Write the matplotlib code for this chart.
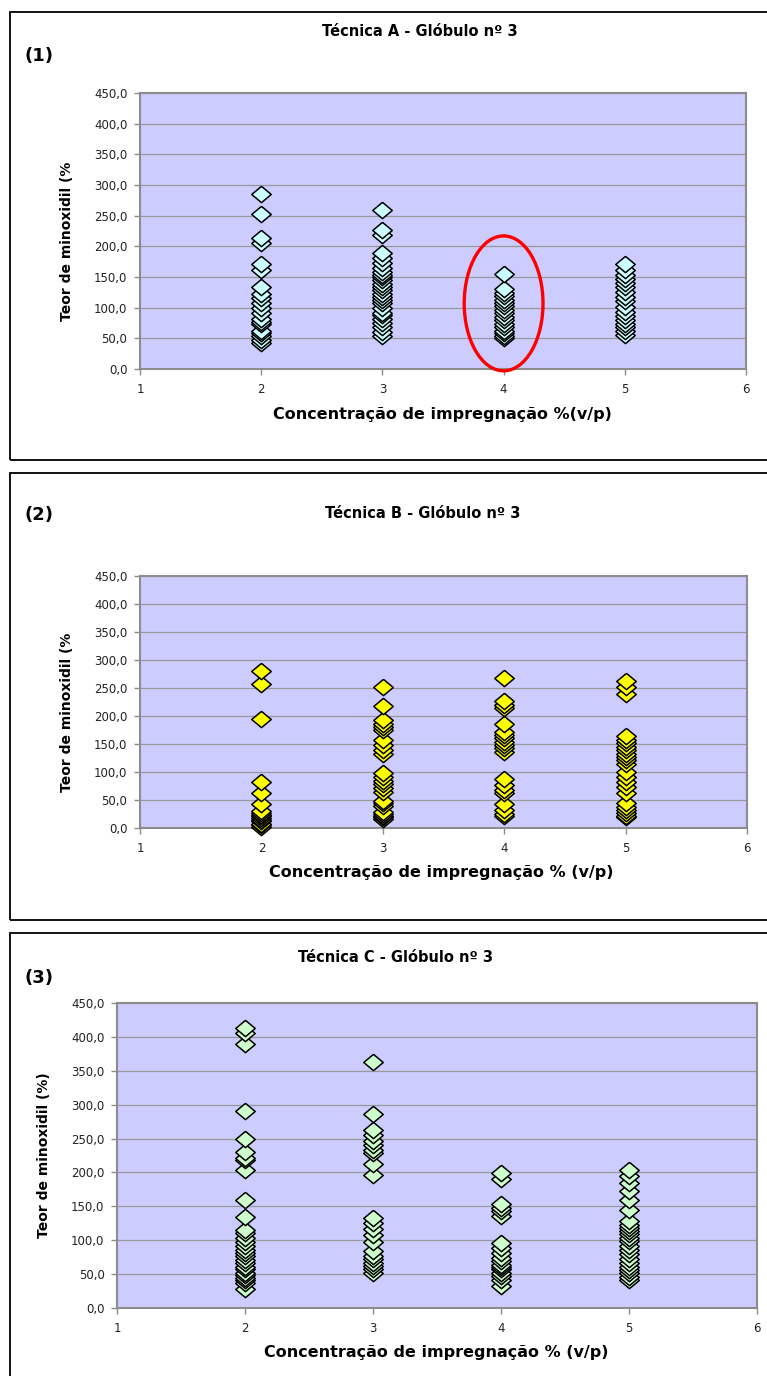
import matplotlib
matplotlib.use("Agg")
import matplotlib.pyplot as plt
from matplotlib.patches import Rectangle, Ellipse
from matplotlib.ticker import FuncFormatter, MultipleLocator

# concentrations on the x axis
conc = [2, 3, 4, 5]

# Técnica A - teor de minoxidil (%) per concentration
tec_a_2 = [286, 252, 214, 206, 171, 162, 133, 123, 115, 107, 99, 91, 81, 77, 73, 62, 58, 53, 47, 43]
tec_a_3 = [259, 227, 219, 189, 181, 173, 165, 158, 154, 150, 145, 139, 134, 128, 123, 118, 112,
           107, 99, 92, 88, 82, 75, 69, 61, 53]
tec_a_4 = [155, 131, 124, 119, 113, 108, 102, 97, 92, 85, 80, 73, 68, 62, 58, 54, 50]
tec_a_5 = [172, 162, 154, 147, 140, 133, 126, 118, 111, 101, 93, 86, 80, 74, 69, 62, 55]

# Técnica B
tec_b_2 = [281, 257, 194, 82, 63, 43, 30, 27, 24, 21, 18, 15, 12, 8, 5, 2]
tec_b_3 = [251, 218, 192, 186, 180, 175, 157, 148, 140, 133, 98, 91, 84, 78, 72, 64, 49, 44,
           40, 28, 25, 22, 19, 16]
tec_b_4 = [268, 226, 220, 214, 186, 172, 166, 160, 154, 148, 142, 136, 88, 76, 68, 62, 42, 32, 25, 22]
tec_b_5 = [262, 251, 240, 164, 158, 152, 145, 139, 133, 127, 121, 115, 100, 91, 82, 73, 62, 44,
           38, 32, 26, 22, 19]

# Técnica C
tec_c_2 = [413, 406, 389, 291, 250, 230, 222, 218, 203, 159, 135, 115, 111, 104, 98, 91, 86, 81,
           76, 71, 66, 61, 57, 52, 48, 45, 41, 37, 28]
tec_c_3 = [363, 286, 262, 255, 247, 241, 233, 228, 213, 196, 133, 126, 117, 108, 97, 84, 77, 72,
           67, 62, 57, 52]
tec_c_4 = [199, 191, 153, 148, 143, 136, 96, 89, 81, 74, 69, 64, 61, 57, 52, 47, 41, 33]
tec_c_5 = [204, 195, 184, 172, 160, 145, 128, 123, 118, 114, 109, 104, 99, 91, 86, 79, 73, 67,
           61, 56, 51, 46, 41]

# highlighted group in técnica A (x centre, y centre, width, height)
destaque = (4, 107, 0.65, 220)

W, H = 767, 1376
fig = plt.figure(figsize=(W / 100, H / 100), dpi=100)

# flattened diamond, a bit wider than tall
diamond = [(0, 0.42), (0.5, 0), (0, -0.42), (-0.5, 0), (0, 0.42)]


def fx(x):
    return x / W


def fy(y):
    return 1 - y / H


def virgula(v, pos):
    return f"{v:.1f}".replace(".", ",")


def painel(box, area, cols, cor, titulo, tpos, num, npos, xlab, xlpos, ylab, ylpos):
    # outer frame of the panel
    fig.patches.append(Rectangle((fx(box[0]), fy(box[3])), fx(box[2] - box[0]),
                                 (box[3] - box[1]) / H, transform=fig.transFigure,
                                 fill=False, ec="black", lw=1.3))
    l, t, r, b = area
    ax = fig.add_axes([fx(l), fy(b), (r - l) / W, (b - t) / H])
    ax.set_facecolor("#CCCCFF")
    for xv, vals in zip(conc, cols):
        vs = sorted(vals)
        ax.plot([xv] * len(vs), vs, ls="none", marker=diamond, ms=14,
                mfc=cor, mec="black", mew=1.1, zorder=3, clip_on=False)
    ax.set_xlim(1, 6)
    ax.set_ylim(0, 450)
    ax.xaxis.set_major_locator(MultipleLocator(1))
    ax.yaxis.set_major_locator(MultipleLocator(50))
    ax.yaxis.set_major_formatter(FuncFormatter(virgula))
    ax.grid(axis="y", color="#999999", lw=0.9)
    ax.set_axisbelow(True)
    for s in ax.spines.values():
        s.set_color("#8C8C8C")
        s.set_linewidth(1.5)
    ax.tick_params(length=4, width=1, color="#8C8C8C", labelsize=8.5,
                   labelcolor="#222222")
    ax.tick_params(axis="x", pad=6)
    ax.tick_params(axis="y", pad=5)
    ax.set_ylabel(ylab, fontsize=10, fontweight="bold")
    # label anchored by its right edge once rotated, so shift by half its height
    ax.yaxis.set_label_coords((ylpos[0] + 7 - l) / (r - l), (b - ylpos[1]) / (b - t))

    fig.text(fx(tpos[0]), fy(tpos[1]), titulo, ha="center", va="center",
             fontsize=10.5, fontweight="bold")
    fig.text(fx(npos[0]), fy(npos[1]), num, ha="left", va="center",
             fontsize=13, fontweight="bold")
    fig.text(fx(xlpos[0]), fy(xlpos[1]), xlab, ha="center", va="center",
             fontsize=11.5, fontweight="bold")
    return ax


ax1 = painel((10, 12, 820, 460), (140, 93, 746, 369),
             [tec_a_2, tec_a_3, tec_a_4, tec_a_5], "#CCFFFF",
             "Técnica A - Glóbulo nº 3", (420, 31), "(1)", (24, 56),
             "Concentração de impregnação %(v/p)", (442, 414),
             "Teor de minoxidil (%", (67, 241))
ax1.add_patch(Ellipse(destaque[:2], destaque[2], destaque[3], fill=False,
                      ec="#FF0000", lw=2.4, zorder=5, clip_on=False))

painel((10, 473, 820, 920), (140, 576, 747, 828),
       [tec_b_2, tec_b_3, tec_b_4, tec_b_5], "#FFFF00",
       "Técnica B - Glóbulo nº 3", (423, 513), "(2)", (24, 515),
       "Concentração de impregnação % (v/p)", (441, 873),
       "Teor de minoxidil (%", (67, 712))

painel((10, 933, 820, 1420), (117, 1003, 757, 1308),
       [tec_c_2, tec_c_3, tec_c_4, tec_c_5], "#CCFFCC",
       "Técnica C - Glóbulo nº 3", (395, 958), "(3)", (24, 978),
       "Concentração de impregnação % (v/p)", (436, 1353),
       "Teor de minoxidil (%)", (44, 1155))

fig.savefig("out.png", dpi=100)
